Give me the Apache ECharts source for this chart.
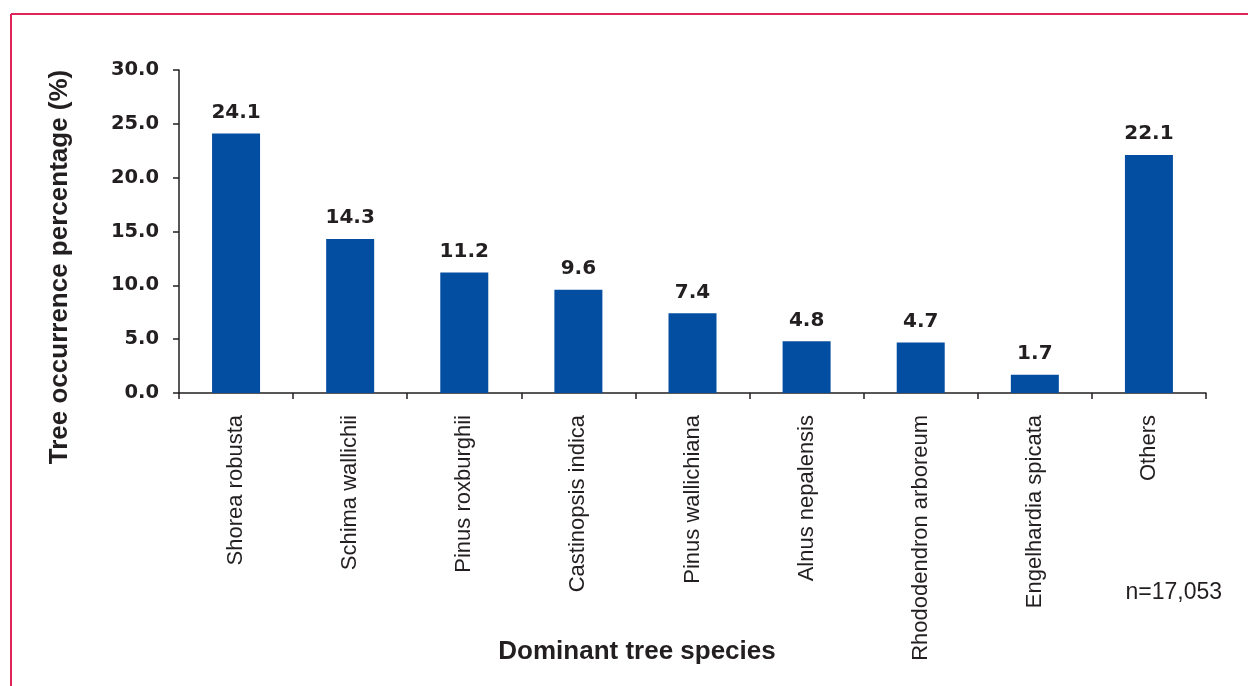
<!DOCTYPE html>
<html>
<head>
<meta charset="utf-8">
<script src="https://cdn.jsdelivr.net/npm/echarts@6/dist/echarts.min.js"></script>
<style>html,body{margin:0;padding:0;background:#fff;}#c{width:1248px;height:686px;}</style>
</head>
<body>
<div id="c"></div>
<script>
var categories = ['Shorea robusta','Schima wallichii','Pinus roxburghii','Castinopsis indica','Pinus wallichiana','Alnus nepalensis','Rhododendron arboreum','Engelhardia spicata','Others'];
var values = [24.1, 14.3, 11.2, 9.6, 7.4, 4.8, 4.7, 1.7, 22.1];
var yTicks = [0, 5, 10, 15, 20, 25, 30];

var chart = echarts.init(document.getElementById('c'), null, {renderer: 'canvas'});
var ink = '#231f20';
chart.setOption({
  animation: false,
  backgroundColor: '#ffffff',
  grid: {left: 179, right: 42, top: 70, bottom: 293},
  xAxis: {
    type: 'category',
    data: categories,
    axisLine: {lineStyle: {color: ink, width: 1.5}},
    axisTick: {show: true, length: 6, lineStyle: {color: ink, width: 1.5}},
    axisLabel: {rotate: 90, margin: 22, color: ink, fontFamily: 'Liberation Sans', fontSize: 22}
  },
  yAxis: {
    type: 'value',
    min: yTicks[0], max: yTicks[yTicks.length - 1], interval: 5,
    splitLine: {show: false},
    axisLine: {show: true, lineStyle: {color: ink, width: 1.5}},
    axisTick: {show: true, length: 6, lineStyle: {color: ink, width: 1.5}},
    axisLabel: {margin: 20, color: ink, fontFamily: 'DejaVu Sans', fontWeight: 'bold', fontSize: 19.5,
      formatter: function (v) { return v.toFixed(1); }}
  },
  series: [{
    type: 'bar',
    data: values,
    barWidth: 48,
    itemStyle: {color: '#044ea1'},
    label: {show: true, position: 'top', distance: 11, color: ink, fontFamily: 'DejaVu Sans', fontWeight: 'bold', fontSize: 20,
      formatter: function (p) { return p.value.toFixed(1); }}
  }],
  graphic: [
    {type: 'line', shape: {x1: 11, y1: 14, x2: 1248, y2: 14}, style: {stroke: '#e0245a', lineWidth: 2}},
    {type: 'line', shape: {x1: 11, y1: 14, x2: 11, y2: 686}, style: {stroke: '#e0245a', lineWidth: 2}},
    {type: 'text', x: 60, y: 267, rotation: Math.PI / 2,
      style: {text: 'Tree occurrence percentage (%)', fill: ink, font: 'bold 26px "Liberation Sans"', textAlign: 'center', textVerticalAlign: 'middle'}},
    {type: 'text', x: 637, y: 652,
      style: {text: 'Dominant tree species', fill: ink, font: 'bold 26px "Liberation Sans"', textAlign: 'center', textVerticalAlign: 'middle'}},
    {type: 'text', x: 1222, y: 593,
      style: {text: 'n=17,053', fill: ink, font: '23px "Liberation Sans"', textAlign: 'right', textVerticalAlign: 'middle'}}
  ]
});
</script>
</body>
</html>
